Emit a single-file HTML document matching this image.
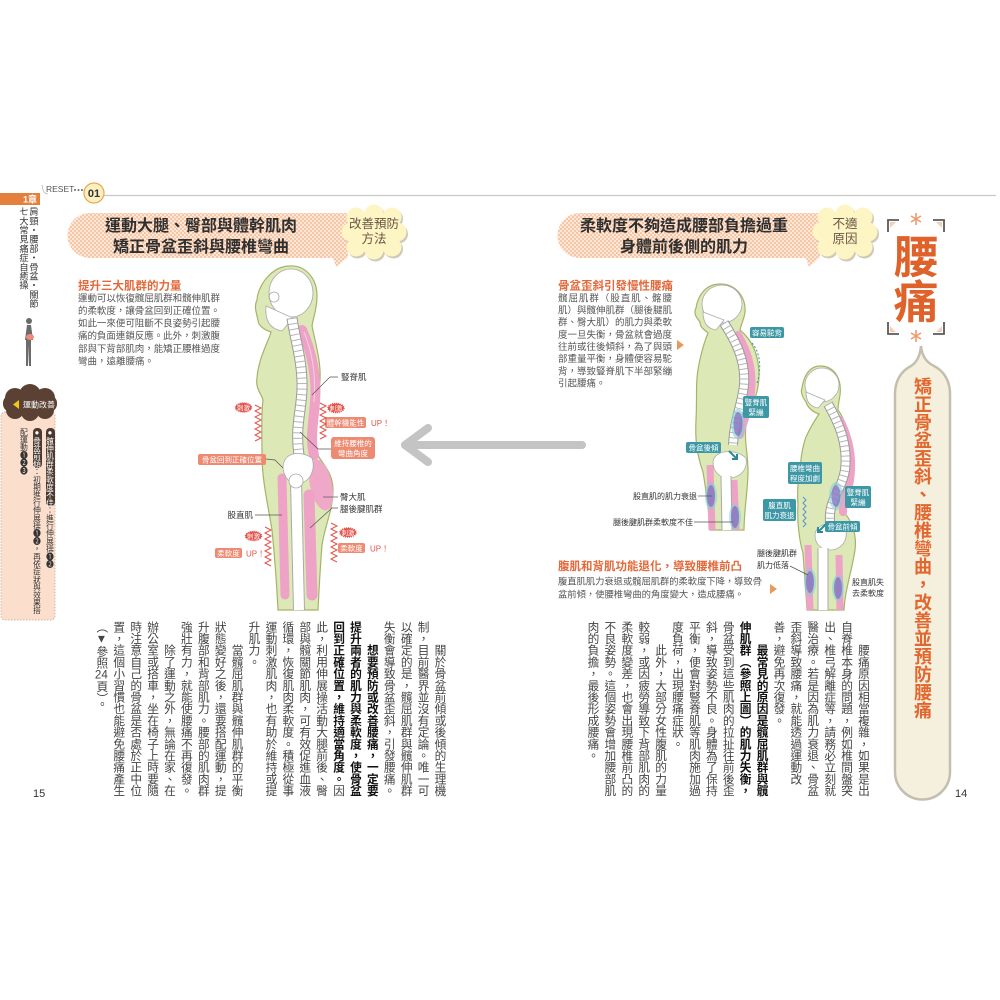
<!DOCTYPE html>
<html><head><meta charset="utf-8">
<style>
html,body{margin:0;padding:0;background:#fff;}
body{width:1000px;height:1000px;position:relative;overflow:hidden;font-family:"Liberation Sans","Noto Sans CJK TC",sans-serif;}
svg{position:absolute;left:0;top:0;}
.v{position:absolute;writing-mode:vertical-rl;white-space:nowrap;font-family:"Liberation Sans","Noto Sans CJK TC",sans-serif;}
.v b{font-weight:bold;color:#111;}
.hl{background:#4a3a30;color:#fff;border-radius:4px;}
</style></head><body>
<svg width="1000" height="1000" viewBox="0 0 1000 1000" style="font-family:'Liberation Sans','Noto Sans CJK TC',sans-serif">
<defs>
<pattern id="chk" width="4" height="4" patternUnits="userSpaceOnUse">
<rect width="4" height="4" fill="#fde7d8"/><rect width="2" height="2" fill="#f6c6a5"/><rect x="2" y="2" width="2" height="2" fill="#f6c6a5"/>
</pattern>
</defs>

<!-- header line -->
<line x1="104" y1="195.5" x2="996" y2="195.5" stroke="#c8c8c8" stroke-width="1.2"/>
<rect x="0" y="193" width="40" height="12" fill="#e57f3c"/>
<text x="37" y="202.5" font-size="9" font-weight="bold" fill="#fff" text-anchor="end">1章</text>
<path d="M42 185 Q43 194 48 194" stroke="#999" stroke-width="0.6" fill="none"/>
<text x="46" y="192" font-size="8.5" fill="#555">RESET</text>
<circle cx="75" cy="190" r="1" fill="#666"/><circle cx="78.5" cy="190" r="1" fill="#666"/><circle cx="82" cy="190" r="1" fill="#666"/>
<circle cx="94" cy="193" r="10" fill="#fcefc0" stroke="#e9a650" stroke-width="1.2"/>
<text x="94" y="197" font-size="11" font-weight="bold" fill="#333" text-anchor="middle">01</text>

<!-- small figure in sidebar -->
<g fill="#6b6b6b">
<circle cx="29" cy="321" r="3"/>
<path d="M27 325 L31 325 L33 340 L31 340 L31 366 L29 366 L28.5 345 L28 366 L26 366 L26 340 L25 340 Z"/>
</g>
<ellipse cx="30" cy="337" rx="4" ry="3" fill="#f08a7a"/>

<!-- sidebar 運動改善 -->
<rect x="1" y="412" width="54" height="208" rx="4" fill="#fbdfcc" stroke="#c9a58f" stroke-width="0.8" stroke-dasharray="1.5 1.5"/>
<g fill="#5a4133">
<circle cx="15" cy="398" r="10"/><circle cx="30" cy="395" r="11"/><circle cx="45" cy="398" r="10"/>
<circle cx="15" cy="410" r="9"/><circle cx="30" cy="412" r="9"/><circle cx="45" cy="410" r="9"/>
<rect x="3" y="395" width="54" height="17" rx="8"/>
</g>
<path d="M19 400 L19 409 L13 404.5 Z" fill="#f5c518"/>
<text x="23" y="407.5" font-size="8" fill="#fff">運動改善</text>

<!-- banners -->
<path d="M90 213 L348 213 L348 258 L347 258 L336 267 L333 258 L90 258 A22.5 22.5 0 0 1 90 213 Z" fill="url(#chk)"/>
<path d="M580 213 L820 213 L820 258 L819 258 L809 267 L806 258 L580 258 A22.5 22.5 0 0 1 580 213 Z" fill="url(#chk)"/>
<text x="201" y="231" font-size="16" font-weight="bold" fill="#2f2f2f" text-anchor="middle">運動大腿、臀部與體幹肌肉</text>
<text x="201" y="252" font-size="16" font-weight="bold" fill="#2f2f2f" text-anchor="middle">矯正骨盆歪斜與腰椎彎曲</text>
<text x="684" y="231" font-size="16" font-weight="bold" fill="#2f2f2f" text-anchor="middle">柔軟度不夠造成腰部負擔過重</text>
<text x="684" y="252" font-size="16" font-weight="bold" fill="#2f2f2f" text-anchor="middle">身體前後側的肌力</text>

<!-- cloud badges -->
<g transform="translate(1.5,2)" fill="#cfc9b6">
<circle cx="356" cy="217" r="9.5"/><circle cx="374" cy="214" r="9.5"/><circle cx="392" cy="217" r="9.5"/><circle cx="397" cy="232" r="9.5"/><circle cx="392" cy="247" r="9.5"/><circle cx="374" cy="250" r="9.5"/><circle cx="356" cy="247" r="9.5"/><circle cx="351" cy="232" r="9.5"/><ellipse cx="374" cy="232" rx="24" ry="19"/>
</g>
<g fill="#fef5c4">
<circle cx="356" cy="217" r="9.5"/><circle cx="374" cy="214" r="9.5"/><circle cx="392" cy="217" r="9.5"/><circle cx="397" cy="232" r="9.5"/><circle cx="392" cy="247" r="9.5"/><circle cx="374" cy="250" r="9.5"/><circle cx="356" cy="247" r="9.5"/><circle cx="351" cy="232" r="9.5"/><ellipse cx="374" cy="232" rx="24" ry="19"/>
</g>
<text x="374" y="228" font-size="12.5" fill="#6a5444" text-anchor="middle">改善預防</text>
<text x="374" y="243" font-size="12.5" fill="#6a5444" text-anchor="middle">方法</text>
<g transform="translate(472.5,2)" fill="#cfc9b6">
<circle cx="356" cy="217" r="9.5"/><circle cx="374" cy="214" r="9.5"/><circle cx="392" cy="217" r="9.5"/><circle cx="397" cy="232" r="9.5"/><circle cx="392" cy="247" r="9.5"/><circle cx="374" cy="250" r="9.5"/><circle cx="356" cy="247" r="9.5"/><circle cx="351" cy="232" r="9.5"/><ellipse cx="374" cy="232" rx="24" ry="19"/>
</g>
<g transform="translate(471,0)" fill="#fef5c4">
<circle cx="356" cy="217" r="9.5"/><circle cx="374" cy="214" r="9.5"/><circle cx="392" cy="217" r="9.5"/><circle cx="397" cy="232" r="9.5"/><circle cx="392" cy="247" r="9.5"/><circle cx="374" cy="250" r="9.5"/><circle cx="356" cy="247" r="9.5"/><circle cx="351" cy="232" r="9.5"/><ellipse cx="374" cy="232" rx="24" ry="19"/>
</g>
<text x="845" y="228" font-size="12.5" fill="#6a5444" text-anchor="middle">不適</text>
<text x="845" y="243" font-size="12.5" fill="#6a5444" text-anchor="middle">原因</text>

<!-- right title 腰痛 -->
<path d="M888 232 L888 220 L899 220 M933 220 L944 220 L944 232 M888 322 L888 334 L899 334 M933 334 L944 334 L944 322" stroke="#5a5a5a" stroke-width="1.8" fill="none"/>
<path d="M890 222 L896 222 L890 228 Z M942 222 L936 222 L942 228 Z M890 332 L896 332 L890 326 Z M942 332 L936 332 L942 326 Z" fill="#f5cdb8"/>
<g stroke="#ee9a6c" stroke-width="1.6">
<line x1="916" y1="213" x2="916" y2="225"/><line x1="911" y1="216" x2="921" y2="222"/><line x1="921" y1="216" x2="911" y2="222"/>
<line x1="916" y1="330" x2="916" y2="342"/><line x1="911" y1="333" x2="921" y2="339"/><line x1="921" y1="333" x2="911" y2="339"/>
</g>
<text x="916" y="273" font-size="45" font-weight="bold" fill="#e0622b" text-anchor="middle">腰</text>
<text x="916" y="318" font-size="45" font-weight="bold" fill="#e0622b" text-anchor="middle">痛</text>
<path d="M921 346 C922 356 926 362 934 366 C944 371 950 381 950 394 L950 772 A27.5 27.5 0 0 1 895 772 L895 394 C895 381 901 371 911 366 C917 362 920 356 921 346 Z" fill="#f5f0de" stroke="#c4beae" stroke-width="2.5"/>

<!-- left subtitle & paragraph -->
<text x="78" y="289.5" font-size="11.5" font-weight="bold" fill="#e3683a">提升三大肌群的力量</text>
<g font-size="9.5" fill="#555">
<text x="78" y="301.4" textLength="142" lengthAdjust="spacing">運動可以恢復髖屈肌群和髖伸肌群</text>
<text x="78" y="314" textLength="142" lengthAdjust="spacing">的柔軟度，讓骨盆回到正確位置。</text>
<text x="78" y="326.6" textLength="142" lengthAdjust="spacing">如此一來便可阻斷不良姿勢引起腰</text>
<text x="78" y="339.2" textLength="142" lengthAdjust="spacing">痛的負面連鎖反應。此外，刺激腹</text>
<text x="78" y="351.8" textLength="142" lengthAdjust="spacing">部與下背部肌肉，能矯正腰椎過度</text>
<text x="78" y="364.4">彎曲，遠離腰痛。</text>
</g>

<!-- right subtitle & paragraph -->
<text x="558" y="289.5" font-size="11.5" font-weight="bold" fill="#e3683a">骨盆歪斜引發慢性腰痛</text>
<g font-size="9.5" fill="#555">
<text x="558" y="301.4" textLength="114" lengthAdjust="spacing">髖屈肌群（股直肌、髂腰</text>
<text x="558" y="313.5" textLength="114" lengthAdjust="spacing">肌）與髖伸肌群（腿後腱肌</text>
<text x="558" y="325.7" textLength="114" lengthAdjust="spacing">群、臀大肌）的肌力與柔軟</text>
<text x="558" y="337.8" textLength="114" lengthAdjust="spacing">度一旦失衡，骨盆就會過度</text>
<text x="558" y="350" textLength="114" lengthAdjust="spacing">往前或往後傾斜，為了與頭</text>
<text x="558" y="362.1" textLength="114" lengthAdjust="spacing">部重量平衡，身體便容易駝</text>
<text x="558" y="374.3" textLength="114" lengthAdjust="spacing">背，導致豎脊肌下半部緊繃</text>
<text x="558" y="386.4">引起腰痛。</text>
</g>
<path d="M677 340 L677 350 L684 345 Z" fill="#e89a5a"/>
<text x="558" y="570" font-size="11.5" font-weight="bold" fill="#e3683a">腹肌和背肌功能退化，導致腰椎前凸</text>
<g font-size="9.3" fill="#555">
<text x="558" y="584.3" textLength="204" lengthAdjust="spacing">腹直肌肌力衰退或髖屈肌群的柔軟度下降，導致骨</text>
<text x="558" y="597.3">盆前傾，使腰椎彎曲的角度變大，造成腰痛。</text>
</g>
<path d="M770 584 L770 594 L777 589 Z" fill="#e89a5a"/>

<!-- center arrow -->
<g stroke="#c4c4c4" stroke-width="8" stroke-linecap="round" stroke-linejoin="round" fill="none">
<line x1="582" y1="445" x2="405" y2="445"/>
<polyline points="428,428 405,445 428,462"/>
</g>

<!-- ============ LEFT FIGURE ============ -->
<path d="M290 266 C305 265 317 278 317 296 C317 310 313 318 312 326 C316 345 321 362 320 380 C319 400 313 420 314 445 C316 460 333 468 333 490 C333 510 325 525 322 545 C320 570 319 590 318 610 L278 610 C277 590 275 560 272 530 C268 505 262 480 262 455 C262 435 261 415 263 400 C262 395 255 388 257 378 C258 365 262 355 266 345 C268 340 270 336 271 332 C265 330 258 326 258 320 C256 312 254 306 257 300 C258 285 272 266 290 266 Z" fill="#dce9b6" stroke="#a5b36a" stroke-width="1.2"/>
<ellipse cx="291" cy="293" rx="22" ry="24" fill="#fff" stroke="#aaa" stroke-width="0.8"/>
<path d="M266 306 Q264 328 282 331 L293 318 Z" fill="#fff" stroke="#aaa" stroke-width="0.8"/>
<circle cx="274" cy="297" r="5" fill="none" stroke="#aaa" stroke-width="0.8"/>
<path d="M302 330 C312 352 317 378 315 402 C313 425 310 440 314 455" stroke="#eea2c5" stroke-width="10" fill="none" stroke-linecap="round"/>
<path d="M304 332 C313 354 316 378 314 402" stroke="#f7cfe0" stroke-width="1" fill="none"/>
<path d="M292 318 C295 340 303 362 302 390 C301 412 295 428 299 455" stroke="#9a9a9a" stroke-width="11" fill="none"/>
<path d="M292 318 C295 340 303 362 302 390 C301 412 295 428 299 455" stroke="#fff" stroke-width="9" fill="none"/>
<path d="M292 318 C295 340 303 362 302 390 C301 412 295 428 299 455" stroke="#b5b5b5" stroke-width="9" stroke-dasharray="1 4.5" fill="none"/>
<ellipse cx="321" cy="485" rx="11" ry="26" transform="rotate(-12 321 485)" fill="#f0a8c8"/>
<line x1="282" y1="478" x2="285" y2="595" stroke="#eea2c5" stroke-width="9" stroke-linecap="round"/>
<line x1="309" y1="495" x2="312" y2="595" stroke="#eea2c5" stroke-width="11" stroke-linecap="round"/>
<path d="M283 468 C283 452 300 450 312 458 C316 470 310 482 298 484 C290 484 284 478 283 468 Z" fill="#fff" stroke="#aaa" stroke-width="0.8"/>
<line x1="296" y1="482" x2="299" y2="610" stroke="#aaa" stroke-width="12"/>
<line x1="296" y1="482" x2="299" y2="610" stroke="#fff" stroke-width="10"/>
<circle cx="296" cy="481" r="7" fill="#fff" stroke="#aaa" stroke-width="0.8"/>

<!-- left figure labels -->
<g stroke="#555" stroke-width="0.7" fill="none">
<polyline points="312,395 330,377 338,377"/>
<polyline points="300,432 318,449 331,449"/>
<polyline points="266,459 275,460 283,468"/>
<polyline points="323,497 338,497"/>
<polyline points="310,528 332,508 338,508"/>
<polyline points="255,515 282,515"/>
</g>
<g font-size="8.5" fill="#333">
<text x="341" y="380">豎脊肌</text>
<text x="340" y="500">臀大肌</text>
<text x="340" y="512">腿後腱肌群</text>
<text x="253" y="518" text-anchor="end">股直肌</text>
</g>
<g fill="#ec8a72">
<rect x="325" y="417" width="41" height="11" rx="2"/>
<rect x="331" y="437" width="44" height="22" rx="3"/>
<rect x="198" y="454" width="68" height="11" rx="2"/>
<rect x="215" y="548" width="27" height="10" rx="2"/>
<rect x="338" y="543" width="27" height="10" rx="2"/>
</g>
<g font-size="7.5" fill="#fff" text-anchor="middle">
<text x="345.5" y="425.5">體幹機能性</text>
<text x="353" y="446">維持腰椎的</text>
<text x="353" y="456">彎曲角度</text>
<text x="232" y="462.5">骨盆回到正確位置</text>
<text x="228.5" y="556">柔軟度</text>
<text x="351.5" y="551">柔軟度</text>
</g>
<g font-size="8" fill="#e2524a">
<text x="371" y="426">UP！</text>
<text x="246" y="556.5">UP！</text>
<text x="370" y="551.5">UP！</text>
</g>
<g fill="#e3524a" stroke="#e3524a" stroke-width="1.5" stroke-dasharray="1 1">
<ellipse cx="243.5" cy="407.5" rx="8" ry="4.5"/>
<ellipse cx="336" cy="408" rx="8" ry="4.5"/>
<ellipse cx="253.5" cy="536" rx="8" ry="4.5"/>
<ellipse cx="348" cy="532.5" rx="8" ry="4.5"/>
</g>
<g font-size="6.5" fill="#fff" text-anchor="middle">
<text x="243.5" y="410">刺激</text>
<text x="336" y="410.5">刺激</text>
<text x="253.5" y="538.5">刺激</text>
<text x="348" y="535">刺激</text>
</g>
<g stroke="#e3524a" stroke-width="1" fill="none">
<polyline points="255,405 261,408 255,411 261,414 255,417 261,420 255,423 261,426 255,429 261,432 255,435 261,438 255,441"/>
<polyline points="320,403 326,406 320,409 326,412 320,415 326,418 320,421 326,424 320,427 326,430 320,433 326,436 320,439"/>
<polyline points="265,527 271,530 265,533 271,536 265,539 271,542 265,545 271,548 265,551 271,554 265,557 271,560 265,563 271,566"/>
<polyline points="331,523 337,526 331,529 337,532 331,535 337,538 331,541 337,544 331,547 337,550 331,553 337,556 331,559 337,562"/>
</g>

<!-- ============ RIGHT FIGURE 1 ============ -->
<path d="M720 284 C735 284 746 296 745 312 C744 320 741 324 740 330 C752 340 759 355 759 375 C759 395 750 410 746 425 C744 440 748 455 748 470 C748 490 744 510 744 530 L710 530 C709 510 706 490 703 472 C697 455 695 440 696 420 C697 400 696 390 697 378 C698 365 703 345 708 333 C705 330 700 328 700 322 C697 318 693 314 696 308 C698 295 706 284 720 284 Z" fill="#dce9b6" stroke="#a5b36a" stroke-width="1.2"/>
<ellipse cx="722" cy="304" rx="20" ry="19" fill="#fff" stroke="#aaa" stroke-width="0.8"/>
<path d="M703 312 Q703 328 716 330 L724 320 Z" fill="#fff" stroke="#aaa" stroke-width="0.8"/>
<path d="M738 335 C750 355 754 375 750 400 C747 415 742 425 740 435" stroke="#eea2c5" stroke-width="8" fill="none" stroke-linecap="round"/>
<path d="M724 323 C735 340 746 360 744 385 C742 405 734 420 733 445" stroke="#9a9a9a" stroke-width="10" fill="none"/>
<path d="M724 323 C735 340 746 360 744 385 C742 405 734 420 733 445" stroke="#fff" stroke-width="8" fill="none"/>
<path d="M724 323 C735 340 746 360 744 385 C742 405 734 420 733 445" stroke="#b5b5b5" stroke-width="8" stroke-dasharray="1 4" fill="none"/>
<ellipse cx="738" cy="424" rx="7" ry="15" fill="#7fd0d8" opacity="0.6"/>
<ellipse cx="738" cy="424" rx="4.5" ry="12" fill="#8a6cc0" opacity="0.75"/>
<line x1="710" y1="465" x2="712" y2="530" stroke="#eea2c5" stroke-width="7"/>
<line x1="734" y1="480" x2="736" y2="530" stroke="#eea2c5" stroke-width="7"/>
<path d="M713 462 C714 450 735 448 746 458 C748 470 740 478 728 478 C720 478 713 472 713 462 Z" fill="#fff" stroke="#aaa" stroke-width="0.8"/>
<line x1="726" y1="476" x2="727" y2="530" stroke="#aaa" stroke-width="11"/>
<line x1="726" y1="476" x2="727" y2="530" stroke="#fff" stroke-width="9"/>
<ellipse cx="711" cy="496" rx="6" ry="14" fill="#7fd0d8" opacity="0.55"/>
<ellipse cx="711" cy="496" rx="4" ry="11" fill="#8a6cc0" opacity="0.75"/>
<ellipse cx="735" cy="517" rx="6" ry="13" fill="#7fd0d8" opacity="0.55"/>
<ellipse cx="735" cy="517" rx="4" ry="11" fill="#8a6cc0" opacity="0.75"/>
<path d="M729 451 L737 459 M737 454 L737 459 L732 459" stroke="#2d8a9a" stroke-width="2" fill="none"/>
<path d="M752 343 C760 352 762 368 757 383" stroke="#3d97a5" stroke-width="1" stroke-dasharray="2 2" fill="none"/>

<!-- ============ RIGHT FIGURE 2 ============ -->
<path d="M820 366 C834 366 842 378 840 395 C839 402 838 405 838 410 C846 420 850 440 849 460 C848 480 840 495 842 510 C852 520 857 535 855 550 C852 570 845 590 844 610 L807 610 C806 590 804 570 803 553 C799 540 797 520 798 505 C797 490 798 480 800 470 C801 455 803 445 806 437 C810 428 815 420 819 414 C813 412 808 408 806 402 C803 398 800 393 802 388 C804 375 810 366 820 366 Z" fill="#dce9b6" stroke="#a5b36a" stroke-width="1.2"/>
<ellipse cx="822" cy="385" rx="17" ry="17" fill="#fff" stroke="#aaa" stroke-width="0.8"/>
<path d="M806 392 Q806 406 818 408 L825 400 Z" fill="#fff" stroke="#aaa" stroke-width="0.8"/>
<path d="M840 420 C850 440 853 460 850 480 C848 495 842 505 843 512" stroke="#eea2c5" stroke-width="8" fill="none" stroke-linecap="round"/>
<path d="M828 404 C840 425 848 445 845 470 C842 490 828 500 830 522" stroke="#9a9a9a" stroke-width="10" fill="none"/>
<path d="M828 404 C840 425 848 445 845 470 C842 490 828 500 830 522" stroke="#fff" stroke-width="8" fill="none"/>
<path d="M828 404 C840 425 848 445 845 470 C842 490 828 500 830 522" stroke="#b5b5b5" stroke-width="8" stroke-dasharray="1 4" fill="none"/>
<ellipse cx="836" cy="496" rx="7" ry="14" fill="#7fd0d8" opacity="0.55"/>
<ellipse cx="836" cy="496" rx="4.5" ry="11" fill="#8a6cc0" opacity="0.7"/>
<line x1="808" y1="545" x2="810" y2="610" stroke="#eea2c5" stroke-width="7"/>
<line x1="839" y1="555" x2="840" y2="610" stroke="#eea2c5" stroke-width="7"/>
<path d="M815 535 C816 522 836 520 846 530 C848 542 840 550 830 550 C822 550 815 545 815 535 Z" fill="#fff" stroke="#aaa" stroke-width="0.8"/>
<line x1="823" y1="548" x2="823" y2="610" stroke="#aaa" stroke-width="11"/>
<line x1="823" y1="548" x2="823" y2="610" stroke="#fff" stroke-width="9"/>
<ellipse cx="810" cy="582" rx="6" ry="14" fill="#7fd0d8" opacity="0.55"/>
<ellipse cx="810" cy="582" rx="4" ry="11" fill="#8a6cc0" opacity="0.75"/>
<ellipse cx="838" cy="588" rx="6" ry="13" fill="#7fd0d8" opacity="0.55"/>
<ellipse cx="838" cy="588" rx="4" ry="11" fill="#8a6cc0" opacity="0.75"/>
<path d="M827 523 L818 532 M818 527 L818 532 L823 532" stroke="#2d8a9a" stroke-width="2" fill="none"/>
<polyline points="803,497 806,500 803,503 806,506 803,509 806,512 803,515 806,518 803,521 806,524 803,527" stroke="#5b8fd0" stroke-width="1" fill="none"/>

<!-- right labels -->
<g fill="#3d97a5">
<rect x="750" y="327" width="34" height="11" rx="2"/>
<rect x="743" y="396" width="26" height="22" rx="2"/>
<rect x="686" y="442" width="35" height="11" rx="2"/>
<rect x="788" y="462" width="34" height="22" rx="2"/>
<rect x="845" y="486" width="26" height="22" rx="2"/>
<rect x="763" y="499" width="33" height="22" rx="2"/>
<rect x="825" y="521" width="35" height="11" rx="2"/>
</g>
<g font-size="7.5" fill="#fff" text-anchor="middle">
<text x="767" y="335.5">容易駝背</text>
<text x="756" y="405">豎脊肌</text><text x="756" y="415">緊繃</text>
<text x="703.5" y="450.5">骨盆後傾</text>
<text x="805" y="471">腰椎彎曲</text><text x="805" y="481">程度加劇</text>
<text x="858" y="495">豎脊肌</text><text x="858" y="505">緊繃</text>
<text x="779.5" y="508">腹直肌</text><text x="779.5" y="518">肌力衰退</text>
<text x="842.5" y="529.5">骨盆前傾</text>
</g>
<g stroke="#555" stroke-width="0.7" fill="none">
<line x1="698" y1="496" x2="712" y2="496"/>
<line x1="694" y1="522" x2="733" y2="522"/>
<line x1="790" y1="566" x2="808" y2="575"/>
</g>
<g font-size="8" fill="#333">
<text x="697" y="499" text-anchor="end">股直肌的肌力衰退</text>
<text x="693" y="525" text-anchor="end">腿後腱肌群柔軟度不佳</text>
<text x="757" y="556">腿後腱肌群</text>
<text x="757" y="568">肌力低落</text>
<text x="852" y="585">股直肌失</text>
<text x="852" y="596">去柔軟度</text>
</g>

<!-- page numbers -->
<text x="33" y="797" font-size="11" fill="#333">15</text>
<text x="955" y="797" font-size="11" fill="#333">14</text>
</svg>

<!-- sidebar vertical texts -->
<div class="v" style="left:28px;top:207px;width:10px;font-size:9.2px;line-height:10px;color:#333;">肩頸・腰部・骨盆・關節</div>
<div class="v" style="left:18px;top:207px;width:10px;font-size:9.2px;line-height:10px;color:#333;">七大常見痛症自癒操</div>
<div class="v" style="left:17.5px;top:428px;width:39px;height:190px;font-size:7.7px;line-height:13px;color:#333;"><span class="hl">●髖伸肌群柔軟度不佳</span>：進行伸展操❶❷<br><span class="hl">●骨盆前傾</span>：初期進行伸展操❶❷，再依症狀與效果搭<br>配運動❶❷❸</div>

<!-- right pill vertical title -->
<div class="v" style="left:912px;top:377px;width:20px;font-size:18px;line-height:20px;font-weight:bold;color:#e2672f;">矯正骨盆歪斜、腰椎彎曲，改善並預防腰痛</div>

<!-- left page body (vertical) -->
<div class="v" style="left:92px;top:621px;width:355px;height:180px;font-size:11.7px;line-height:16.9px;color:#444;">　　關於骨盆前傾或後傾的生理機<br>制，目前醫界並沒有定論。唯一可<br>以確定的是，髖屈肌群與髖伸肌群<br>失衡會導致骨盆歪斜，引發腰痛。<br><b>　　想要預防或改善腰痛，一定要<br>提升兩者的肌力與柔軟度，使骨盆<br>回到正確位置，維持適當角度。</b>因<br>此，利用伸展操活動大腿前後、臀<br>部與髖關節肌肉，可有效促進血液<br>循環，恢復肌肉柔軟度。積極從事<br>運動刺激肌肉，也有助於維持或提<br>升肌力。<br>　　當髖屈肌群與髖伸肌群的平衡<br>狀態變好之後，還要搭配運動，提<br>升腹部和背部肌力。腰部的肌肉群<br>強壯有力，就能使腰痛不再復發。<br>　　除了運動之外，無論在家、在<br>辦公室或搭車，坐在椅子上時要隨<br>時注意自己的骨盆是否處於正中位<br>置，這個小習慣也能避免腰痛產生<br>（▼參照<span style="text-combine-upright:all">24</span>頁）。</div>

<!-- right page body (vertical) -->
<div class="v" style="left:580px;top:621px;width:290.5px;height:180px;font-size:11.7px;line-height:16.9px;color:#444;">　　腰痛原因相當複雜，如果是出<br>自脊椎本身的問題，例如椎間盤突<br>出、椎弓解離症等，請務必立刻就<br>醫治療。若是因為肌力衰退、骨盆<br>歪斜導致腰痛，就能透過運動改<br>善，避免再次復發。<br><b>　　最常見的原因是髖屈肌群與髖<br>伸肌群（參照上圖）的肌力失衡，</b><br>骨盆受到這些肌肉的拉扯往前後歪<br>斜，導致姿勢不良。身體為了保持<br>平衡，便會對豎脊肌等肌肉施加過<br>度負荷，出現腰痛症狀。<br>　　此外，大部分女性腹肌的力量<br>較弱，或因疲勞導致下背部肌肉的<br>柔軟度變差，也會出現腰椎前凸的<br>不良姿勢。這個姿勢會增加腰部肌<br>肉的負擔，最後形成腰痛。</div>
</body></html>
